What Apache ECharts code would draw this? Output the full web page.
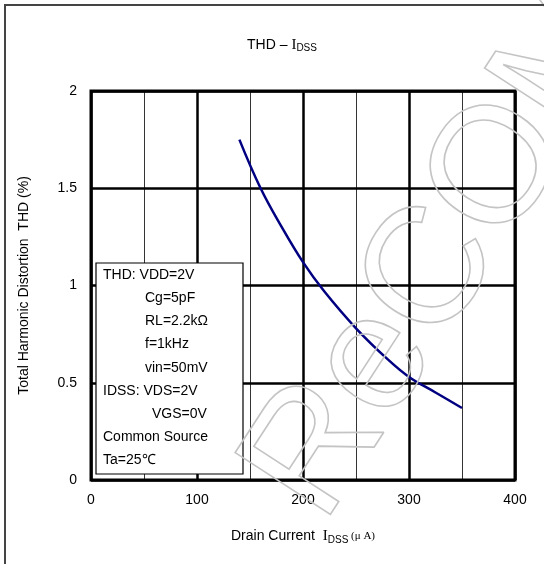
<!DOCTYPE html>
<html>
<head>
<meta charset="utf-8">
<script src="https://cdn.jsdelivr.net/npm/echarts@6/dist/echarts.min.js"></script>
<style>
html,body{margin:0;padding:0;background:#fff;}
#chart{width:544px;height:564px;}
</style>
</head>
<body>
<div id="chart"></div>
<script>
// Data
var idss = [140, 160, 180, 200, 220, 250, 280, 300, 325, 350];
var thd  = [1.75, 1.5, 1.3, 1.12, 0.97, 0.78, 0.62, 0.53, 0.45, 0.37];
var xTicks = [0, 100, 200, 300, 400];
var yTicks = [0, 0.5, 1, 1.5, 2];
var noteLines = [
  ['THD: VDD=2V', 0],
  ['Cg=5pF', 1],
  ['RL=2.2kΩ', 1],
  ['f=1kHz', 1],
  ['vin=50mV', 1],
  ['IDSS: VDS=2V', 0],
  ['VGS=0V', 2],
  ['Common Source', 0],
  ['Ta=25℃', 0]
];

var pts = idss.map(function (x, i) { return [x, thd[i]]; });
var font = 'Liberation Sans, Arial, sans-serif';
var serif = 'Liberation Serif, Times New Roman, serif';

var noteEls = [{
  type: 'rect',
  shape: { x: 96, y: 263, width: 147, height: 211 },
  style: { fill: '#fff', stroke: '#000', lineWidth: 1.2 },
  z: 50
}];
var indents = [103, 145, 152];
noteLines.forEach(function (l, i) {
  noteEls.push({
    type: 'text',
    x: indents[l[1]],
    y: 275 + i * 23.2,
    style: { text: l[0], font: '14px ' + font, fill: '#000', textVerticalAlign: 'middle' },
    z: 51
  });
});

var chart = echarts.init(document.getElementById('chart'));
chart.setOption({
  animation: false,
  backgroundColor: '#fff',
  title: {
    text: '{a|THD \u2013 }{i|I}{s|DSS}',
    left: 277, top: 32, textAlign: 'center',
    textStyle: {
      fontWeight: 'normal',
      rich: {
        a: { fontSize: 14, fontFamily: font, fontWeight: 'normal', color: '#000' },
        i: { fontSize: 15, fontFamily: serif, fontWeight: 'normal', color: '#000' },
        s: { fontSize: 10, fontFamily: font, fontWeight: 'normal', color: '#000', padding: [6, 0, 0, 0] }
      }
    }
  },
  grid: { left: 91, right: 29, top: 91, bottom: 84, show: true, borderColor: '#000', borderWidth: 3, backgroundColor: 'transparent' },
  xAxis: {
    type: 'value', min: 0, max: 400, interval: 100,
    name: '{a|Drain Current  }{i|I}{s|DSS}{u| (\u03BC A)}',
    nameLocation: 'middle', nameGap: 48,
    nameTextStyle: {
      rich: {
        a: { fontSize: 14, fontFamily: font, color: '#000' },
        i: { fontSize: 15, fontFamily: serif, color: '#000' },
        s: { fontSize: 10, fontFamily: font, color: '#000', padding: [7, 0, 0, 0] },
        u: { fontSize: 11, fontFamily: serif, color: '#000' }
      }
    },
    axisLine: { show: false },
    axisTick: { show: false },
    axisLabel: { color: '#000', fontSize: 14, fontFamily: font, margin: 13,
      formatter: function (v) { return xTicks.indexOf(v) >= 0 ? String(v) : ''; } },
    splitLine: { show: true, lineStyle: { color: '#000', width: 2.5 } },
    minorTick: { show: false, splitNumber: 2 },
    minorSplitLine: { show: true, lineStyle: { color: '#000', width: 0.8 } }
  },
  yAxis: {
    type: 'value', min: 0, max: 2, interval: 0.5,
    name: 'Total Harmonic Distortion  THD (%)',
    nameLocation: 'middle', nameGap: 60, nameRotate: 90,
    nameTextStyle: { fontSize: 14, fontFamily: font, color: '#000' },
    axisLine: { show: false },
    axisTick: { show: false },
    axisLabel: { color: '#000', fontSize: 14, fontFamily: font, margin: 14,
      formatter: function (v) { return yTicks.indexOf(v) >= 0 ? String(v) : ''; } },
    splitLine: { show: true, lineStyle: { color: '#000', width: 2.5 } }
  },
  graphic: [
    { type: 'rect', shape: { x: 5, y: 5, width: 700, height: 700 }, style: { fill: 'none', stroke: '#444', lineWidth: 2 }, z: 100 },
    {
      type: 'text', x: 447, y: 251, rotation: 57 * Math.PI / 180,
      style: { text: 'ReCOM', font: '165px ' + font, fill: 'none', stroke: '#c4c4c4', lineWidth: 1.6, textAlign: 'center', textVerticalAlign: 'middle' },
      z: 60, silent: true
    }
  ].concat(noteEls),
  series: [{
    type: 'line', data: pts, smooth: 0.4, symbol: 'none',
    lineStyle: { color: '#000080', width: 2.5 }, z: 40
  }]
});
</script>
</body>
</html>
